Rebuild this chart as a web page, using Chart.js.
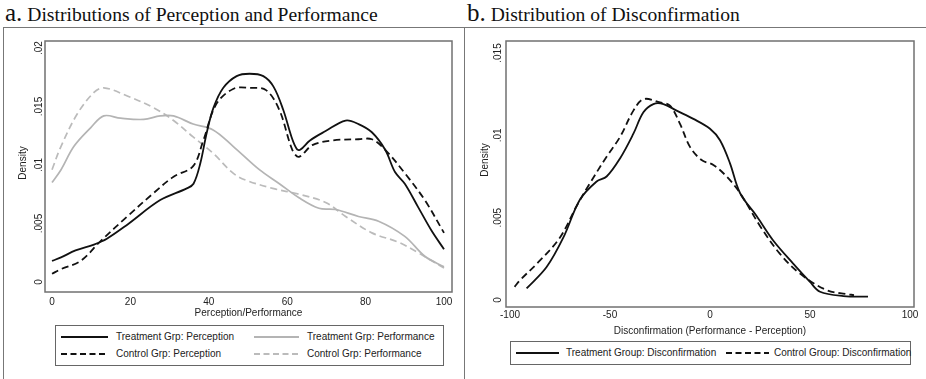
<!DOCTYPE html>
<html>
<head>
<meta charset="utf-8">
<script src="https://cdn.jsdelivr.net/npm/chart.js@4.4.1/dist/chart.umd.min.js"></script>
<style>
  body { margin: 0; width: 926px; height: 379px; background: #fff; position: relative; overflow: hidden;
         font-family: "Liberation Sans", Arial, sans-serif; color: #222; }
  .title { position: absolute; top: 1px; font-family: "Liberation Serif", "Times New Roman", serif;
           font-size: 19.6px; color: #111; white-space: nowrap; line-height: 24px; }
  .title span { font-size: 25px; }
  .frame { position: absolute; top: 27px; height: 360px; border-top: 1px solid #777; border-left: 1px solid #777; }
  canvas { position: absolute; }
  .legend { position: absolute; border: 1px solid #666; box-sizing: border-box; font-size: 10px; }
  .legend svg, .legend div { position: absolute; }
  .legend div { white-space: nowrap; line-height: 12px; }
</style>
</head>
<body>
<div class="title" style="left:5px"><span>a.</span> Distributions of Perception and Performance</div>
<div class="title" style="left:467px"><span>b.</span> Distribution of Disconfirmation</div>
<div class="frame" style="left:3px; width:461px"></div>
<div class="frame" style="left:464px; width:462px"></div>

<canvas id="leftChart" width="463" height="295" style="left:0; top:28px"></canvas>
<canvas id="rightChart" width="463" height="312" style="left:463px; top:28px"></canvas>

<div class="legend" style="left:55px; top:325px; width:389px; height:41px">
  <svg style="left:5px; top:7px" width="47" height="8"><line x1="0" y1="4" x2="47" y2="4" stroke="#111" stroke-width="2"/></svg>
  <div style="left:60px; top:5px">Treatment Grp: Perception</div>
  <svg style="left:198px; top:7px" width="45" height="8"><line x1="0" y1="4" x2="45" y2="4" stroke="#b4b4b4" stroke-width="2"/></svg>
  <div style="left:251px; top:5px">Treatment Grp: Performance</div>
  <svg style="left:5px; top:24px" width="47" height="8"><line x1="0" y1="4" x2="47" y2="4" stroke="#111" stroke-width="2" stroke-dasharray="6 3.5"/></svg>
  <div style="left:60px; top:22px">Control Grp: Perception</div>
  <svg style="left:198px; top:24px" width="45" height="8"><line x1="0" y1="4" x2="45" y2="4" stroke="#bbb" stroke-width="2" stroke-dasharray="6 3.5"/></svg>
  <div style="left:251px; top:22px">Control Grp: Performance</div>
</div>

<div class="legend" style="left:510px; top:341px; width:401px; height:24px">
  <svg style="left:5px; top:7px" width="43" height="8"><line x1="0" y1="4" x2="43" y2="4" stroke="#111" stroke-width="2"/></svg>
  <div style="left:55px; top:5px">Treatment Group: Disconfirmation</div>
  <svg style="left:215px; top:7px" width="43" height="8"><line x1="0" y1="4" x2="43" y2="4" stroke="#111" stroke-width="2" stroke-dasharray="6 3.5"/></svg>
  <div style="left:263px; top:5px">Control Group: Disconfirmation</div>
</div>

<script>
// ---- panel a: perception / performance densities ----
const treatPercX = [0, 2.3, 6, 10.7, 14, 19.2, 27.6, 34.4, 36.1, 37.8, 39.5, 41.2, 43.7, 47.1, 50.4, 53.9, 56.5, 59, 61.1, 62.4, 63.3, 65.8, 69.8, 74.9, 78.2, 81.6, 85, 87.5, 90, 93.4, 96.8, 100]
const treatPercY = [0.0018, 0.0021, 0.0027, 0.0032, 0.0037, 0.0049, 0.0070, 0.0080, 0.0084, 0.0101, 0.0128, 0.0149, 0.0166, 0.0176, 0.0178, 0.0176, 0.0167, 0.0147, 0.0124, 0.0114, 0.0113, 0.0121, 0.0129, 0.0138, 0.0135, 0.0128, 0.0113, 0.0094, 0.0084, 0.0064, 0.0044, 0.0028]

const ctrlPercX = [0, 2.3, 7.3, 12.4, 19.2, 25.9, 31, 36, 38.6, 41.9, 46.2, 50.4, 54.6, 58, 61.3, 63, 66.4, 71.5, 78.2, 81.6, 85, 90, 95.1, 100]
const ctrlPercY = [0.0007, 0.0011, 0.0018, 0.0035, 0.0056, 0.0076, 0.0090, 0.0099, 0.0121, 0.0152, 0.0165, 0.0166, 0.0164, 0.0147, 0.0113, 0.0107, 0.0117, 0.0121, 0.0122, 0.0122, 0.0113, 0.0093, 0.0070, 0.0042]

const treatPerfX = [0, 2.3, 5.6, 9.9, 13.2, 17.5, 23.4, 27.6, 31, 36, 41.1, 46.2, 52.9, 58, 63, 68.1, 72.3, 78.2, 83.3, 90, 95.1, 100]
const treatPerfY = [0.0085, 0.0096, 0.0116, 0.0132, 0.0142, 0.0140, 0.0139, 0.0142, 0.0142, 0.0135, 0.0130, 0.0116, 0.0096, 0.0084, 0.0072, 0.0063, 0.0062, 0.0056, 0.0052, 0.0039, 0.0022, 0.0013]

const ctrlPerfX = [0, 2.3, 6.5, 10.7, 13.2, 19.2, 25.9, 31, 36, 41.1, 46.2, 49.5, 56.3, 63, 69.8, 74.9, 81.6, 88.4, 93.4, 100]
const ctrlPerfY = [0.0096, 0.0116, 0.0144, 0.0162, 0.0166, 0.0159, 0.0149, 0.0138, 0.0124, 0.0110, 0.0093, 0.0087, 0.0080, 0.0075, 0.0068, 0.0056, 0.0042, 0.0034, 0.0025, 0.0012]

const leftXTicks = [0, 20, 40, 60, 80, 100]
const leftYTicks = [0, 0.005, 0.01, 0.015, 0.02]
const leftYLabels = ["0", ".005", ".01", ".015", ".02"]

// ---- panel b: disconfirmation densities ----
const treatDiscX = [-91.7, -81.7, -73.3, -65, -56.7, -51.7, -45, -38.3, -33.3, -28.3, -23.3, -16.7, -8.3, 0, 5, 10, 15, 23.3, 31.7, 41.7, 50, 55, 66.7, 79]
const treatDiscY = [0.0007, 0.0020, 0.0038, 0.0061, 0.0072, 0.0075, 0.0086, 0.0101, 0.0114, 0.0119, 0.0119, 0.0115, 0.0110, 0.0104, 0.0097, 0.0083, 0.0065, 0.0051, 0.0036, 0.0022, 0.0011, 0.0005, 0.00024, 0.0002]

const ctrlDiscX = [-97.7, -95, -85, -75, -66.7, -60, -51.7, -45, -38.3, -33.3, -25, -20, -15, -10, -4.2, 1.7, 8.3, 15, 25, 35, 45, 58.3, 68, 72]
const ctrlDiscY = [0.0008, 0.0012, 0.0024, 0.0038, 0.0057, 0.0071, 0.0087, 0.0099, 0.0115, 0.0122, 0.0120, 0.0118, 0.0107, 0.0093, 0.0085, 0.0082, 0.0075, 0.0065, 0.0045, 0.0028, 0.0016, 0.0006, 0.00036, 0.0003]

const rightXTicks = [-100, -50, 0, 50, 100]
const rightYTicks = [0, 0.005, 0.01, 0.015]
const rightYLabels = ["0", ".005", ".01", ".015"]

const pts = (xs, ys) => xs.map((x, i) => ({ x: x, y: ys[i] }))

Chart.defaults.font.family = '"Liberation Sans", Arial, sans-serif'
Chart.defaults.font.size = 10
Chart.defaults.color = "#222"

// box around the plot + rotated y labels, Stata style
const stataFrame = {
  id: "stataFrame",
  afterDraw(chart, args, opts) {
    const { ctx, chartArea: a } = chart
    const y = chart.scales.y
    ctx.save()
    ctx.strokeStyle = "#707070"
    ctx.lineWidth = 1.5
    ctx.strokeRect(a.left, a.top, a.right - a.left, a.bottom - a.top)
    ctx.font = '10px "Liberation Sans", Arial, sans-serif'
    ctx.fillStyle = "#222"
    ctx.textAlign = "center"
    ctx.textBaseline = "middle"
    opts.ticks.forEach((v, i) => {
      ctx.save()
      ctx.translate(opts.tickX, y.getPixelForValue(v))
      ctx.rotate(-Math.PI / 2)
      ctx.fillText(opts.labels[i], 0, 0)
      ctx.restore()
    })
    ctx.translate(opts.titleX, opts.titleY)
    ctx.rotate(-Math.PI / 2)
    ctx.fillText(opts.title, 0, 0)
    ctx.restore()
  },
}

function lineSet(label, data, color, dash, width) {
  return {
    label: label,
    data: data,
    borderColor: color,
    borderWidth: width,
    borderDash: dash,
    pointRadius: 0,
    fill: false,
    tension: 0.35,
  }
}

function makeChart(id, datasets, cfg) {
  new Chart(document.getElementById(id), {
    type: "line",
    data: { datasets: datasets },
    plugins: [stataFrame],
    options: {
      responsive: false,
      animation: false,
      layout: { padding: { left: 0, right: cfg.padRight, top: 13, bottom: 0 } },
      plugins: {
        legend: { display: false },
        tooltip: { enabled: false },
        stataFrame: cfg.frame,
      },
      scales: {
        x: {
          type: "linear",
          min: cfg.xMin,
          max: cfg.xMax,
          afterBuildTicks: (s) => { s.ticks = cfg.xTicks.map((v) => ({ value: v })) },
          afterFit: (s) => { s.height = cfg.xHeight },
          grid: { display: false, drawTicks: false },
          border: { display: false },
          ticks: { padding: cfg.tickPad, maxRotation: 0, autoSkip: false, color: "#222" },
          title: { display: true, text: cfg.xTitle, padding: { top: 0, bottom: cfg.titlePad }, color: "#222" },
        },
        y: {
          type: "linear",
          min: cfg.yMin,
          max: cfg.yMax,
          afterFit: (s) => { s.width = cfg.yWidth },
          grid: { display: false, drawTicks: false },
          border: { display: false },
          ticks: { display: false },
        },
      },
    },
  })
}

makeChart("leftChart", [
  lineSet("Treatment Grp: Perception", pts(treatPercX, treatPercY), "#111", [], 1.8),
  lineSet("Control Grp: Perception", pts(ctrlPercX, ctrlPercY), "#111", [7, 4], 1.8),
  lineSet("Treatment Grp: Performance", pts(treatPerfX, treatPerfY), "#b4b4b4", [], 1.7),
  lineSet("Control Grp: Performance", pts(ctrlPerfX, ctrlPerfY), "#bbb", [7, 4], 1.7),
], {
  padRight: 11, xMin: -1.79, xMax: 102.04, yMin: -0.000855, yMax: 0.0206,
  xTicks: leftXTicks, xHeight: 31, yWidth: 45, tickPad: 4, titlePad: 3.5,
  xTitle: "Perception/Performance",
  frame: { ticks: leftYTicks, labels: leftYLabels, tickX: 39, title: "Density", titleX: 23, titleY: 135 },
})

makeChart("rightChart", [
  lineSet("Treatment Group: Disconfirmation", pts(treatDiscX, treatDiscY), "#111", [], 1.8),
  lineSet("Control Group: Disconfirmation", pts(ctrlDiscX, ctrlDiscY), "#111", [7, 4], 1.8),
], {
  padRight: 12, xMin: -102, xMax: 102, yMin: -0.000425, yMax: 0.01573,
  xTicks: rightXTicks, xHeight: 33, yWidth: 43, tickPad: 2, titlePad: 3,
  xTitle: "Disconfirmation (Performance - Perception)",
  frame: { ticks: rightYTicks, labels: rightYLabels, tickX: 35, title: "Density", titleX: 22, titleY: 132 },
})
</script>
</body>
</html>
